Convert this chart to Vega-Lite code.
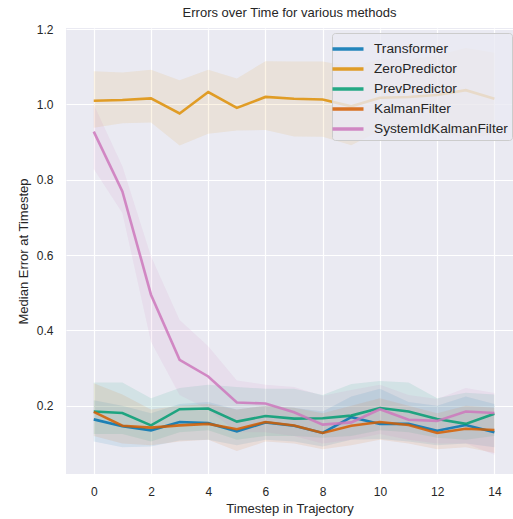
{
  "$schema": "https://vega.github.io/schema/vega-lite/v6.json",
  "autosize": "none",
  "width": 447,
  "height": 446,
  "padding": {"left": 66, "top": 28, "right": 0, "bottom": 45},
  "background": "white",
  "title": {"text": "Errors over Time for various methods", "font": "Liberation Sans", "fontSize": 13, "fontWeight": "normal", "color": "#262626", "offset": 3, "anchor": "middle"},
  "config": {
    "view": {"fill": "#EAEAF2", "stroke": null},
    "axis": {"domain": false, "ticks": false, "grid": true, "gridColor": "#ffffff", "gridWidth": 1.2, "labelFont": "Liberation Sans", "labelFontSize": 12, "labelColor": "#262626", "titleFont": "Liberation Sans", "titleFontSize": 13, "titleColor": "#262626", "titleFontWeight": "normal"},
    "legend": {"labelFont": "Liberation Sans", "labelFontSize": 13.7, "labelColor": "#262626"}
  },
  "data": {"values": [
    {"t":0,"method":"Transformer","m":0.164,"lo":0.105,"hi":0.215},
    {"t":1,"method":"Transformer","m":0.146,"lo":0.090,"hi":0.200},
    {"t":2,"method":"Transformer","m":0.135,"lo":0.092,"hi":0.180},
    {"t":3,"method":"Transformer","m":0.157,"lo":0.108,"hi":0.205},
    {"t":4,"method":"Transformer","m":0.154,"lo":0.110,"hi":0.210},
    {"t":5,"method":"Transformer","m":0.132,"lo":0.095,"hi":0.190},
    {"t":6,"method":"Transformer","m":0.156,"lo":0.110,"hi":0.200},
    {"t":7,"method":"Transformer","m":0.147,"lo":0.105,"hi":0.195},
    {"t":8,"method":"Transformer","m":0.128,"lo":0.092,"hi":0.185},
    {"t":9,"method":"Transformer","m":0.170,"lo":0.110,"hi":0.225},
    {"t":10,"method":"Transformer","m":0.152,"lo":0.112,"hi":0.245},
    {"t":11,"method":"Transformer","m":0.152,"lo":0.105,"hi":0.210},
    {"t":12,"method":"Transformer","m":0.134,"lo":0.095,"hi":0.200},
    {"t":13,"method":"Transformer","m":0.149,"lo":0.100,"hi":0.225},
    {"t":14,"method":"Transformer","m":0.130,"lo":0.090,"hi":0.205},
    {"t":0,"method":"ZeroPredictor","m":1.010,"lo":0.938,"hi":1.088},
    {"t":1,"method":"ZeroPredictor","m":1.012,"lo":0.950,"hi":1.085},
    {"t":2,"method":"ZeroPredictor","m":1.016,"lo":0.952,"hi":1.092},
    {"t":3,"method":"ZeroPredictor","m":0.976,"lo":0.891,"hi":1.064},
    {"t":4,"method":"ZeroPredictor","m":1.033,"lo":0.922,"hi":1.092},
    {"t":5,"method":"ZeroPredictor","m":0.991,"lo":0.931,"hi":1.069},
    {"t":6,"method":"ZeroPredictor","m":1.020,"lo":0.932,"hi":1.115},
    {"t":7,"method":"ZeroPredictor","m":1.015,"lo":0.915,"hi":1.114},
    {"t":8,"method":"ZeroPredictor","m":1.013,"lo":0.914,"hi":1.114},
    {"t":9,"method":"ZeroPredictor","m":0.995,"lo":0.892,"hi":1.100},
    {"t":10,"method":"ZeroPredictor","m":1.018,"lo":0.930,"hi":1.120},
    {"t":11,"method":"ZeroPredictor","m":1.020,"lo":0.935,"hi":1.120},
    {"t":12,"method":"ZeroPredictor","m":1.025,"lo":0.930,"hi":1.130},
    {"t":13,"method":"ZeroPredictor","m":1.038,"lo":0.911,"hi":1.150},
    {"t":14,"method":"ZeroPredictor","m":1.015,"lo":0.920,"hi":1.137},
    {"t":0,"method":"PrevPredictor","m":0.185,"lo":0.125,"hi":0.262},
    {"t":1,"method":"PrevPredictor","m":0.181,"lo":0.125,"hi":0.262},
    {"t":2,"method":"PrevPredictor","m":0.148,"lo":0.105,"hi":0.220},
    {"t":3,"method":"PrevPredictor","m":0.191,"lo":0.130,"hi":0.247},
    {"t":4,"method":"PrevPredictor","m":0.193,"lo":0.135,"hi":0.256},
    {"t":5,"method":"PrevPredictor","m":0.158,"lo":0.110,"hi":0.250},
    {"t":6,"method":"PrevPredictor","m":0.173,"lo":0.120,"hi":0.245},
    {"t":7,"method":"PrevPredictor","m":0.166,"lo":0.120,"hi":0.245},
    {"t":8,"method":"PrevPredictor","m":0.167,"lo":0.115,"hi":0.229},
    {"t":9,"method":"PrevPredictor","m":0.174,"lo":0.120,"hi":0.258},
    {"t":10,"method":"PrevPredictor","m":0.194,"lo":0.135,"hi":0.266},
    {"t":11,"method":"PrevPredictor","m":0.185,"lo":0.130,"hi":0.262},
    {"t":12,"method":"PrevPredictor","m":0.165,"lo":0.115,"hi":0.220},
    {"t":13,"method":"PrevPredictor","m":0.152,"lo":0.110,"hi":0.235},
    {"t":14,"method":"PrevPredictor","m":0.179,"lo":0.120,"hi":0.230},
    {"t":0,"method":"KalmanFilter","m":0.184,"lo":0.120,"hi":0.260},
    {"t":1,"method":"KalmanFilter","m":0.147,"lo":0.100,"hi":0.230},
    {"t":2,"method":"KalmanFilter","m":0.142,"lo":0.095,"hi":0.190},
    {"t":3,"method":"KalmanFilter","m":0.148,"lo":0.105,"hi":0.200},
    {"t":4,"method":"KalmanFilter","m":0.152,"lo":0.110,"hi":0.205},
    {"t":5,"method":"KalmanFilter","m":0.138,"lo":0.080,"hi":0.190},
    {"t":6,"method":"KalmanFilter","m":0.157,"lo":0.105,"hi":0.200},
    {"t":7,"method":"KalmanFilter","m":0.148,"lo":0.100,"hi":0.195},
    {"t":8,"method":"KalmanFilter","m":0.128,"lo":0.085,"hi":0.180},
    {"t":9,"method":"KalmanFilter","m":0.147,"lo":0.095,"hi":0.200},
    {"t":10,"method":"KalmanFilter","m":0.157,"lo":0.110,"hi":0.220},
    {"t":11,"method":"KalmanFilter","m":0.149,"lo":0.100,"hi":0.200},
    {"t":12,"method":"KalmanFilter","m":0.128,"lo":0.085,"hi":0.180},
    {"t":13,"method":"KalmanFilter","m":0.139,"lo":0.090,"hi":0.200},
    {"t":14,"method":"KalmanFilter","m":0.136,"lo":0.075,"hi":0.195},
    {"t":0,"method":"SystemIdKalmanFilter","m":0.928,"lo":0.829,"hi":1.000},
    {"t":1,"method":"SystemIdKalmanFilter","m":0.769,"lo":0.712,"hi":0.836},
    {"t":2,"method":"SystemIdKalmanFilter","m":0.495,"lo":0.370,"hi":0.597},
    {"t":3,"method":"SystemIdKalmanFilter","m":0.322,"lo":0.229,"hi":0.428},
    {"t":4,"method":"SystemIdKalmanFilter","m":0.278,"lo":0.190,"hi":0.358},
    {"t":5,"method":"SystemIdKalmanFilter","m":0.209,"lo":0.130,"hi":0.267},
    {"t":6,"method":"SystemIdKalmanFilter","m":0.206,"lo":0.130,"hi":0.256},
    {"t":7,"method":"SystemIdKalmanFilter","m":0.183,"lo":0.120,"hi":0.250},
    {"t":8,"method":"SystemIdKalmanFilter","m":0.150,"lo":0.100,"hi":0.227},
    {"t":9,"method":"SystemIdKalmanFilter","m":0.156,"lo":0.110,"hi":0.242},
    {"t":10,"method":"SystemIdKalmanFilter","m":0.191,"lo":0.125,"hi":0.256},
    {"t":11,"method":"SystemIdKalmanFilter","m":0.163,"lo":0.110,"hi":0.229},
    {"t":12,"method":"SystemIdKalmanFilter","m":0.160,"lo":0.100,"hi":0.218},
    {"t":13,"method":"SystemIdKalmanFilter","m":0.185,"lo":0.100,"hi":0.247},
    {"t":14,"method":"SystemIdKalmanFilter","m":0.181,"lo":0.070,"hi":0.234}
  ]},
  "encoding": {
    "x": {"field": "t", "type": "quantitative", "scale": {"domain": [-0.97, 14.65], "nice": false, "zero": false},
          "axis": {"values": [0,2,4,6,8,10,12,14], "title": "Timestep in Trajectory", "labelPadding": 12, "titlePadding": 5}},
    "y": {"field": "m", "type": "quantitative", "scale": {"domain": [0.019, 1.203], "nice": false, "zero": false},
          "axis": {"values": [0.2,0.4,0.6,0.8,1.0,1.2], "format": ".1f", "title": "Median Error at Timestep", "labelPadding": 13, "titlePadding": 6}},
    "color": {"field": "method", "type": "nominal",
              "scale": {"domain": ["Transformer","ZeroPredictor","PrevPredictor","KalmanFilter","SystemIdKalmanFilter"], "range": ["#0173B2","#DE8F05","#029E73","#D55E00","#CC78BC"]},
              "legend": {"title": null, "orient": "none", "legendX": 266, "legendY": 5, "symbolType": "M-1.55,0H1.55", "symbolSize": 400, "symbolStrokeWidth": 3.5, "symbolOpacity": 0.85, "labelOffset": 14, "rowPadding": 1, "padding": 4, "fillColor": "rgba(234,234,242,0.8)", "strokeColor": "#cccccc", "cornerRadius": 3}}
  },
  "layer": [
    {
      "mark": {"type": "area", "fillOpacity": 0.1, "clip": true},
      "encoding": {
        "y": {"field": "lo", "type": "quantitative"},
        "y2": {"field": "hi"}
      }
    },
    {
      "mark": {"type": "line", "strokeWidth": 2.6, "opacity": 0.85, "clip": true},
      "encoding": {}
    }
  ]
}
